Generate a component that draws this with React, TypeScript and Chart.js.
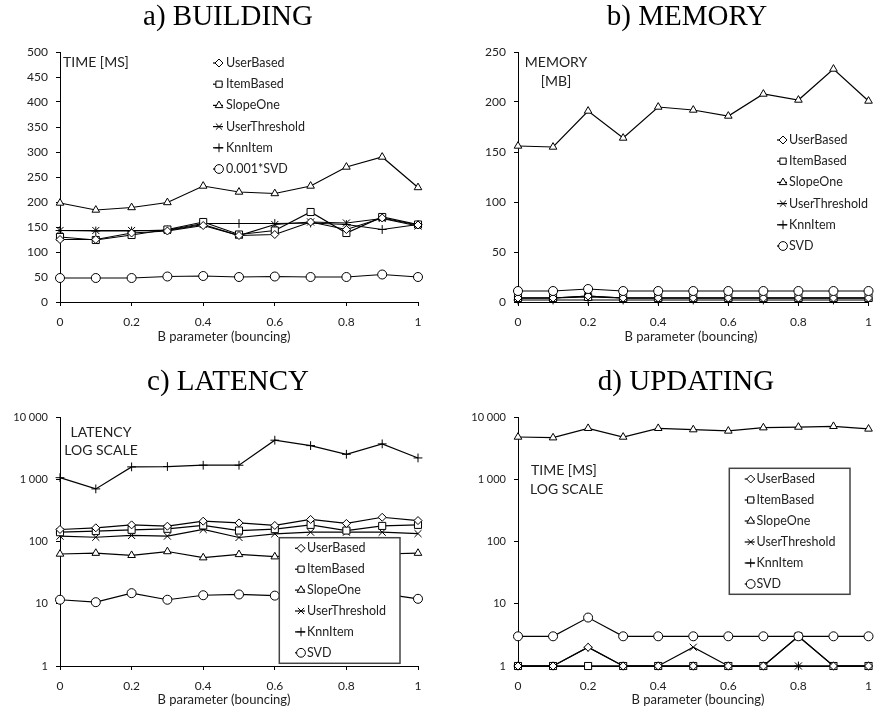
import React, { useEffect, useRef } from "react";
import { Chart, registerables } from "chart.js";
import { drawPoint } from "chart.js/helpers";

Chart.register(...registerables);

// Bouncing parameter B (x axis of every panel)
const bValues = [0, 0.1, 0.2, 0.3, 0.4, 0.5, 0.6, 0.7, 0.8, 0.9, 1];
const xTickStep = 0.2;
const logTicks = [1, 10, 100, 1000, 10000];

const algorithms = ["UserBased", "ItemBased", "SlopeOne", "UserThreshold", "KnnItem", "SVD"];
const buildingLegend = ["UserBased", "ItemBased", "SlopeOne", "UserThreshold", "KnnItem", "0.001*SVD"];
const markerStyles = ["rectRot", "rect", "triangle", "crossRot", "cross", "circle"];
const markerRadii = [4, 5, 4.4, 5, 4.4, 4.5];
// SVD circles are painted above the other series
const drawOrder = [1, 1, 1, 1, 1, 0];

// a) BUILDING – time [ms]
const buildUserBased = [125, 125, 138, 142, 153, 133, 135, 160, 145, 168, 154];
const buildItemBased = [130, 124, 134, 145, 160, 135, 143, 180, 138, 170, 155];
const buildSlopeOne = [198, 184, 189, 199, 232, 220, 217, 232, 270, 290, 229];
const buildUserThreshold = [143, 143, 143, 143, 155, 133, 155, 160, 158, 167, 152];
const buildKnnItem = [143, 142, 142, 144, 157, 157, 157, 158, 155, 145, 155];
const buildSvdScaled = [48, 48, 48, 51, 52, 50, 51, 50, 50, 55, 50];

// b) MEMORY – [MB]
const memUserBased = [4, 4, 6, 4, 4, 4, 4, 4, 4, 4, 4];
const memItemBased = [4, 4, 5, 4, 4, 4, 4, 4, 4, 4, 4];
const memSlopeOne = [156, 155, 191, 164, 195, 192, 186, 208, 202, 233, 201];
const memUserThreshold = [4, 4, 6, 4, 4, 4, 4, 4, 4, 4, 4];
const memKnnItem = [2, 2, 2, 2, 2, 2, 2, 2, 2, 2, 2];
const memSvd = [11, 11, 13, 11, 11, 11, 11, 11, 11, 11, 11];

// c) LATENCY – log scale
const latUserBased = [156, 166, 185, 176, 212, 199, 181, 226, 195, 245, 217];
const latItemBased = [141, 147, 154, 160, 181, 150, 158, 185, 150, 178, 185];
const latSlopeOne = [63, 65, 60, 69, 55, 62, 57, 62, 60, 63, 65];
const latUserThreshold = [122, 117, 125, 122, 156, 116, 133, 141, 141, 141, 134];
const latKnnItem = [1060, 700, 1580, 1600, 1680, 1680, 4240, 3470, 2520, 3700, 2200];
const latSvd = [11.6, 10.6, 14.8, 11.6, 13.7, 14.1, 13.5, 13, 14, 14.5, 12];

// d) UPDATING – time [ms], log scale
const updUserBased = [1, 1, 2, 1, 1, 1, 1, 1, 3, 1, 1];
const updItemBased = [1, 1, 1, 1, 1, 1, 1, 1, 3, 1, 1];
const updSlopeOne = [4770, 4650, 6580, 4770, 6580, 6270, 5970, 6740, 6900, 7090, 6430];
const updUserThreshold = [1, 1, 1, 1, 1, 2, 1, 1, 1, 1, 1];
const updKnnItem = [1, 1, 2, 1, 1, 1, 1, 1, 1, 1, 1];
const updSvd = [3, 3, 6, 3, 3, 3, 3, 3, 3, 3, 3];

const SANS = "Lato, 'Open Sans', sans-serif";
const SERIF = "'Liberation Serif', 'DejaVu Serif', serif";

type Note = { text: string; x: number; y: number; align: CanvasTextAlign };
type Panel = {
  left: number;
  top: number;
  width: number;
  height: number;
  area: { left: number; right: number; top: number; bottom: number };
  log: boolean;
  yMax: number;
  yStep: number;
  yFont: number;
  title: string;
  titlePos: [number, number];
  axisTitlePos: [number, number];
  notes: Note[];
  legendNames: string[];
  legend: { markerX: number; textX: number; y: number; gap: number; box?: [number, number, number, number] };
  series: number[][];
};

const panels: Panel[] = [
  {
    left: 0, top: 0, width: 440, height: 356,
    area: { left: 60, right: 418, top: 52, bottom: 302 },
    log: false, yMax: 500, yStep: 50, yFont: 12,
    title: "a) BUILDING", titlePos: [228, 25], axisTitlePos: [224, 337],
    notes: [{ text: "TIME [MS]", x: 63, y: 62, align: "left" }],
    legendNames: buildingLegend,
    legend: { markerX: 219, textX: 226, y: 63, gap: 21.2 },
    series: [buildUserBased, buildItemBased, buildSlopeOne, buildUserThreshold, buildKnnItem, buildSvdScaled],
  },
  {
    left: 440, top: 0, width: 441, height: 356,
    area: { left: 78, right: 436, top: 52, bottom: 302 },
    log: false, yMax: 250, yStep: 50, yFont: 12,
    title: "b) MEMORY", titlePos: [247, 25], axisTitlePos: [251, 337],
    notes: [
      { text: "MEMORY", x: 116, y: 62, align: "center" },
      { text: "[MB]", x: 116, y: 81, align: "center" },
    ],
    legendNames: algorithms,
    legend: { markerX: 343, textX: 349, y: 140, gap: 21.2 },
    series: [memUserBased, memItemBased, memSlopeOne, memUserThreshold, memKnnItem, memSvd],
  },
  {
    left: 0, top: 356, width: 440, height: 357,
    area: { left: 60, right: 418, top: 61, bottom: 310 },
    log: true, yMax: 10000, yStep: 0, yFont: 11,
    title: "c) LATENCY", titlePos: [228, 34], axisTitlePos: [224, 344],
    notes: [
      { text: "LATENCY", x: 101, y: 76, align: "center" },
      { text: "LOG SCALE", x: 101, y: 94, align: "center" },
    ],
    legendNames: algorithms,
    legend: { markerX: 301, textX: 307, y: 192.3, gap: 20.9, box: [279.3, 181.7, 120.7, 125.6] },
    series: [latUserBased, latItemBased, latSlopeOne, latUserThreshold, latKnnItem, latSvd],
  },
  {
    left: 440, top: 356, width: 441, height: 357,
    area: { left: 78, right: 436, top: 61, bottom: 310 },
    log: true, yMax: 10000, yStep: 0, yFont: 11,
    title: "d) UPDATING", titlePos: [246, 34], axisTitlePos: [258, 344],
    notes: [
      { text: "TIME [MS]", x: 91, y: 114, align: "left" },
      { text: "LOG SCALE", x: 90, y: 133, align: "left" },
    ],
    legendNames: algorithms,
    legend: { markerX: 310.7, textX: 316.5, y: 123, gap: 21, box: [289.3, 112.3, 120.7, 126] },
    series: [updUserBased, updItemBased, updSlopeOne, updUserThreshold, updKnnItem, updSvd],
  },
];

const spaced = (v: number) => String(v).replace(/\B(?=(\d{3})+(?!\d))/g, " ");

function PanelChart({ p }: { p: Panel }) {
  const ref = useRef<HTMLCanvasElement | null>(null);

  useEffect(() => {
    const canvas = ref.current;
    if (!canvas) return;

    const decor = {
      id: "panelDecor",
      afterDraw(chart: Chart) {
        const ctx = chart.ctx;
        ctx.save();
        // panel title
        ctx.fillStyle = "#000";
        ctx.font = `29px ${SERIF}`;
        ctx.textAlign = "center";
        ctx.textBaseline = "alphabetic";
        ctx.fillText(p.title, p.titlePos[0], p.titlePos[1]);

        // x-axis title
        ctx.fillStyle = "#222";
        ctx.font = `13px ${SANS}`;
        ctx.textBaseline = "middle";
        ctx.fillText("B parameter (bouncing)", p.axisTitlePos[0], p.axisTitlePos[1]);

        // in-plot notes
        ctx.font = `14px ${SANS}`;
        for (const n of p.notes) {
          ctx.textAlign = n.align;
          ctx.fillText(n.text, n.x, n.y);
        }

        // legend
        const lg = p.legend;
        if (lg.box) {
          const [bx, by, bw, bh] = lg.box;
          ctx.fillStyle = "#fff";
          ctx.fillRect(bx, by, bw, bh);
          ctx.strokeStyle = "#444";
          ctx.lineWidth = 1.5;
          ctx.strokeRect(bx, by, bw, bh);
        }
        ctx.font = `12.5px ${SANS}`;
        ctx.textAlign = "left";
        p.legendNames.forEach((name, i) => {
          const y = lg.y + i * lg.gap;
          ctx.strokeStyle = "#000";
          ctx.lineWidth = 1.2;
          ctx.beginPath();
          ctx.moveTo(lg.markerX - 6, y);
          ctx.lineTo(lg.markerX + 4, y);
          ctx.stroke();
          ctx.fillStyle = "#fff";
          ctx.lineWidth = 1;
          drawPoint(ctx, { pointStyle: markerStyles[i], radius: Math.min(markerRadii[i], 4.4), rotation: 0, borderWidth: 1 } as any, lg.markerX, y);
          ctx.fillStyle = "#222";
          ctx.fillText(name, lg.textX, y);
        });
        ctx.restore();
      },
    };

    const yScale: any = p.log
      ? {
          type: "logarithmic",
          min: 1,
          max: p.yMax,
          afterBuildTicks: (s: any) => {
            s.ticks = logTicks.map((v) => ({ value: v }));
          },
          ticks: { callback: (v: any) => spaced(Number(v)) },
        }
      : {
          type: "linear",
          min: 0,
          max: p.yMax,
          ticks: { stepSize: p.yStep, callback: (v: any) => String(v) },
        };
    Object.assign(yScale, {
      afterFit: (s: any) => {
        s.width = p.area.left;
      },
      grid: { drawOnChartArea: false, drawTicks: true, tickLength: 4, color: "#000" },
      border: { color: "#000", width: 1 },
    });
    yScale.ticks = { ...yScale.ticks, padding: 8, color: "#222", font: { family: SANS, size: p.yFont } };

    const chart = new Chart(canvas, {
      type: "line",
      data: {
        datasets: p.series.map((vals, i) => ({
          label: algorithms[i],
          data: bValues.map((b, j) => ({ x: b, y: vals[j] })),
          order: drawOrder[i],
          borderColor: "#000",
          borderWidth: 1.2,
          pointStyle: markerStyles[i] as any,
          pointRadius: markerRadii[i],
          pointBackgroundColor: "#fff",
          pointBorderColor: "#000",
          pointBorderWidth: 1,
          tension: 0,
          fill: false,
          clip: false as any,
        })),
      },
      options: {
        responsive: false,
        maintainAspectRatio: false,
        animation: false,
        layout: {
          padding: { left: 0, top: p.area.top, right: p.width - p.area.right, bottom: 0 },
        },
        plugins: {
          legend: { display: false },
          tooltip: { enabled: false },
          title: { display: false },
        },
        scales: {
          x: {
            type: "linear",
            min: 0,
            max: 1,
            afterFit: (s: any) => {
              s.height = p.height - p.area.bottom;
            },
            ticks: {
              stepSize: xTickStep,
              padding: 9,
              color: "#222",
              font: { family: SANS, size: 12 },
              callback: (v: any) => String(Number(Number(v).toFixed(1))),
            },
            grid: { drawOnChartArea: false, drawTicks: true, tickLength: 4, color: "#000" },
            border: { color: "#000", width: 1 },
          },
          y: yScale,
        },
      },
      plugins: [decor],
    });
    return () => chart.destroy();
  }, [p]);

  return (
    <canvas
      ref={ref}
      width={p.width}
      height={p.height}
      style={{ position: "absolute", left: p.left, top: p.top, width: p.width, height: p.height }}
    />
  );
}

export default function App() {
  return (
    <div style={{ position: "fixed", left: 0, top: 0, width: 881, height: 713, background: "#fff" }}>
      {panels.map((p) => (
        <PanelChart key={p.title} p={p} />
      ))}
    </div>
  );
}
